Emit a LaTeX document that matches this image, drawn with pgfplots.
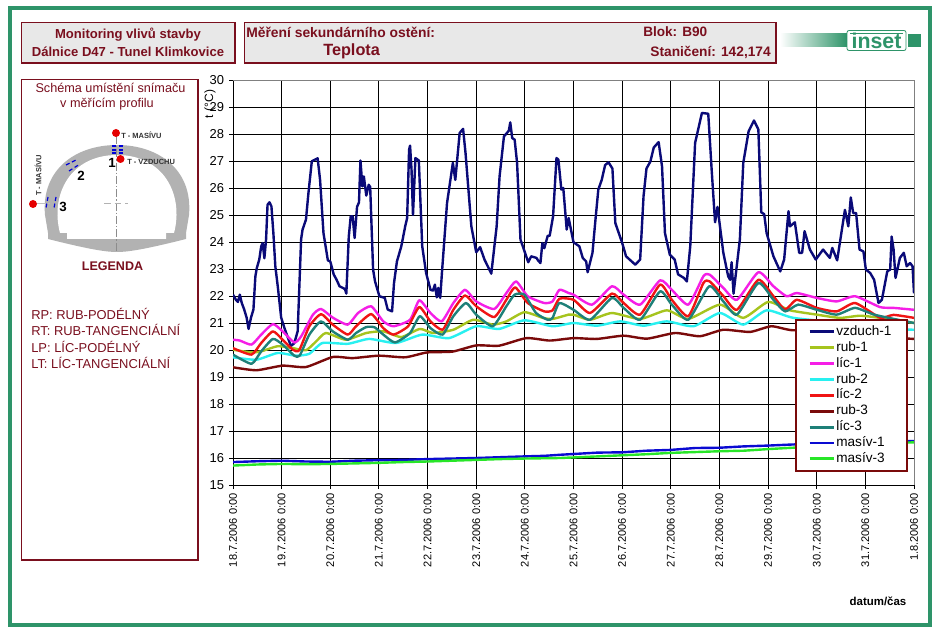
\documentclass[border=0pt]{standalone}
\usepackage{fontspec}
\setmainfont{Liberation Sans}
\usepackage{pgfplots}
\pgfplotsset{compat=1.18}
\definecolor{frameg}{HTML}{2E9469}
\definecolor{dred}{HTML}{7A0F1E}
\definecolor{boxg}{HTML}{E8E8E8}
\definecolor{cvz}{HTML}{0A0A78}
\definecolor{crub1}{HTML}{A6C41E}
\definecolor{clic1}{HTML}{F51EE6}
\definecolor{crub2}{HTML}{28F0F0}
\definecolor{clic2}{HTML}{F01414}
\definecolor{crub3}{HTML}{7A0A0A}
\definecolor{clic3}{HTML}{1E8078}
\definecolor{cmas1}{HTML}{0A0AD2}
\definecolor{cmas3}{HTML}{28E628}
\newcommand{\fs}[1]{\fontsize{#1}{#1}\selectfont}
\begin{document}
\begin{tikzpicture}
\begin{scope}[x=0.75pt,y=-0.75pt]
\path[use as bounding box,fill=white] (0,0) rectangle (941,641);
\draw[frameg,line width=3pt] (10,8) rectangle (930,625);
% header boxes
\draw[dred,fill=boxg,line width=0.8pt] (21.5,22.5) rectangle (235,63);
\draw[dred,fill=boxg,line width=0.8pt] (244.5,22.5) rectangle (776,63);
\draw[dred,fill=white,line width=0.8pt] (21.5,79.5) rectangle (198,560);
\node[dred,font=\bfseries\fs{9.8}] at (128,35) {Monitoring vlivů stavby};
\node[dred,font=\bfseries\fs{9.8}] at (128,51.5) {Dálnice D47 - Tunel Klimkovice};
\node[dred,font=\bfseries\fs{10.4},anchor=west,inner sep=0pt] at (246,32) {Měření sekundárního ostění:};
\node[dred,font=\bfseries\fs{12.2},anchor=west,inner sep=0pt] at (323,51) {Teplota};
\node[dred,font=\bfseries\fs{10.2},anchor=west,inner sep=0pt] at (643,32) {Blok: B90};
\node[dred,font=\bfseries\fs{10.3},anchor=east,inner sep=0pt] at (771,52) {Staničení: 142,174};
% logo
\shade[left color=white,right color=frameg] (780,34) rectangle (847,47);
\fill[frameg] (908,34) rectangle (921,47);
\draw[frameg,fill=white,rounded corners=1.5pt,line width=0.6pt] (847,30.5) rectangle (906,50.5);
\fill[frameg] (850,33) rectangle (903,34.2);
\node[frameg,font=\bfseries\fs{16},inner sep=0pt] at (876.5,41) {inset};
% scheme text
\node[dred,font=\fs{9.5}] at (110.5,88) {Schéma umístění snímaču};
\node[dred,font=\fs{9.5}] at (107,104) {v měřícím profilu};
\node[dred,font=\bfseries\fs{9.4}] at (112.5,266) {LEGENDA};
\node[dred,font=\fs{9.7},anchor=west,inner sep=0pt] at (31,314) {RP: RUB-PODÉLNÝ};
\node[dred,font=\fs{9.7},anchor=west,inner sep=0pt] at (31,330) {RT: RUB-TANGENCIÁLNÍ};
\node[dred,font=\fs{9.7},anchor=west,inner sep=0pt] at (31,347) {LP: LÍC-PODÉLNÝ};
\node[dred,font=\fs{9.7},anchor=west,inner sep=0pt] at (31,363) {LT: LÍC-TANGENCIÁLNÍ};
% tunnel
\fill[black!30] (48,239) -- (48,233) -- (45,215)
  .. controls (41,170) and (75,145) .. (117,145)
  .. controls (159,145) and (193,170) .. (189,215)
  -- (186,233) -- (186,239)
  .. controls (150,248) and (130,252) .. (117,252)
  .. controls (104,252) and (84,248) .. (48,239) -- cycle;
\fill[white] (60,233) .. controls (50,195) and (70,155) .. (117,155)
  .. controls (164,155) and (184,195) .. (174,233) -- (166,233) -- (166,239) -- (67,239) -- (67,233) -- cycle;
\draw[black!45,line width=0.3pt,dash pattern=on 6pt off 1.5pt on 1pt off 1.5pt] (116.5,136) -- (116.5,252);
\draw[black!30,line width=0.4pt,dash pattern=on 5pt off 3pt] (104,203.5) -- (128,203.5);
\draw[black!25,line width=0.5pt] (36,203.5) -- (50,203.5);
\draw[blue!85!black,line width=0.9pt,densely dashed] (112,146) -- (124,146) (112,150) -- (124,150) (112,153) -- (124,153);
\draw[blue!85!black,line width=0.9pt,densely dashed] (66,165) -- (76,160) (69,171) -- (80,164);
\draw[blue!85!black,line width=0.9pt,densely dashed] (48,197) -- (46,208) (56,197) -- (54,208);
\fill[red!90!black] (116,133) circle (3pt);
\fill[red!90!black] (120.5,159) circle (3pt);
\fill[red!90!black] (33,204) circle (3pt);
\node[black!80,font=\bfseries\fs{5.6},anchor=west,inner sep=0pt] at (121,135) {T - MASÍVU};
\node[black!80,font=\bfseries\fs{5.6},anchor=west,inner sep=0pt] at (127,162) {T - VZDUCHU};
\node[black!80,font=\bfseries\fs{5.6},rotate=90,anchor=west,inner sep=0pt] at (38,196) {T - MASÍVU};
\node[font=\bfseries\fs{10}] at (112,163) {1};
\node[font=\bfseries\fs{10}] at (81,176) {2};
\node[font=\bfseries\fs{10}] at (63,207) {3};
\end{scope}
\begin{axis}[
  at={(174.75pt,-363.75pt)},anchor=south west,
  scale only axis,width=510.75pt,height=303.75pt,
  xmin=0,xmax=14,ymin=15,ymax=30,
  xtick={0,...,14},ytick={15,...,30},
  xticklabels={18.7.2006 0:00,19.7.2006 0:00,20.7.2006 0:00,21.7.2006 0:00,22.7.2006 0:00,23.7.2006 0:00,24.7.2006 0:00,25.7.2006 0:00,26.7.2006 0:00,27.7.2006 0:00,28.7.2006 0:00,29.7.2006 0:00,30.7.2006 0:00,31.7.2006 0:00,1.8.2006 0:00},
  xticklabel style={rotate=90,anchor=east,font=\fs{8.3},inner sep=3pt},
  yticklabel style={font=\fs{9.7},inner sep=3.5pt},
  /pgf/number format/assume math mode=true,
  axis x line=bottom,axis y line=left,axis line style={-,black,line width=0.7pt},
  grid=major,major grid style={black,line width=0.7pt},
  tick style={black,line width=0.7pt},major tick length=3pt,tick align=outside,
  clip=true,
  every axis plot/.append style={line width=1.8pt,no marks,line join=round},
  legend cell align=left,
  legend style={at={(0.8253,0.41)},anchor=north west,draw=crub3,line width=1.5pt,fill=white,
    font=\fs{10.2},inner xsep=9pt,inner ysep=3pt,row sep=-0.1pt,
    nodes={inner sep=1pt,text width=43pt,text height=7.6pt,text depth=2.4pt,line width=0pt}},
  legend image code/.code={\draw[#1,line width=2.2pt] (0pt,0pt) -- (18pt,0pt);},
]
\addplot[cvz] coordinates {(0,22.05)(.06,21.86)(.10,21.78)(.14,22.05)(.18,21.74)(.23,21.5)(.28,21.2)(.32,20.78)(.37,21.2)(.42,21.5)(.46,22.73)(.49,23.04)(.54,23.35)(.58,23.84)(.61,23.96)(.645,23.4)(.68,24.1)(.71,25.38)(.75,25.47)(.79,25.32)(.83,24.33)(.87,23.1)(.92,22.36)(.99,21.2)(1.06,20.8)(1.19,20.15)(1.26,20.25)(1.33,20.7)(1.4,24.1)(1.43,24.46)(1.5,24.83)(1.55,25.8)(1.62,26.99)(1.74,27.1)(1.79,26.3)(1.86,24.33)(1.95,23.32)(2.0,23.28)(2.07,22.8)(2.13,22.6)(2.19,22.36)(2.3,22.26)(2.33,22.09)(2.38,24.2)(2.42,24.95)(2.46,24.95)(2.5,24.15)(2.55,25.3)(2.59,25.47)(2.62,27.02)(2.66,26.06)(2.69,26.43)(2.74,25.72)(2.79,26.12)(2.82,26.04)(2.88,22.98)(2.92,22.54)(3.01,21.99)(3.12,21.93)(3.18,21.5)(3.27,21.43)(3.31,22.48)(3.37,23.28)(3.46,23.84)(3.54,24.58)(3.58,24.89)(3.62,27.42)(3.64,27.57)(3.67,26.68)(3.7,25.0)(3.75,27.11)(3.82,27.02)(3.89,23.84)(3.97,22.85)(4.06,22.23)(4.11,22.2)(4.15,22.42)(4.19,21.95)(4.22,22.3)(4.26,21.93)(4.3,22.98)(4.4,25.44)(4.45,26.06)(4.52,26.93)(4.57,26.3)(4.66,28.04)(4.73,28.19)(4.78,27.3)(4.9,24.58)(5.0,23.62)(5.08,23.81)(5.17,23.35)(5.31,22.83)(5.42,24.58)(5.48,26.43)(5.57,27.91)(5.67,28.12)(5.7,28.43)(5.74,27.85)(5.79,27.79)(5.84,26.93)(5.91,24.09)(6.07,23.25)(6.13,23.47)(6.24,23.41)(6.27,23.32)(6.32,23.22)(6.36,23.96)(6.4,23.77)(6.47,24.23)(6.51,24.23)(6.58,24.95)(6.65,27.11)(6.69,27.05)(6.75,25.94)(6.79,26)(6.86,24.46)(6.9,24.89)(7.0,23.99)(7.12,23.84)(7.19,23.41)(7.26,23.28)(7.29,22.88)(7.39,23.6)(7.45,24.8)(7.51,25.94)(7.58,26.3)(7.65,26.85)(7.72,26.95)(7.8,26.72)(7.86,24.7)(8.0,23.97)(8.08,23.47)(8.27,23.16)(8.37,23.35)(8.44,25.7)(8.5,26.72)(8.58,26.98)(8.65,27.5)(8.75,27.7)(8.82,26.8)(8.88,24.33)(8.98,23.53)(9.08,23.35)(9.15,22.8)(9.27,22.67)(9.33,22.54)(9.4,23.84)(9.5,27.67)(9.64,28.78)(9.77,28.75)(9.84,26.68)(9.91,24.73)(9.96,25.3)(10.08,23.6)(10.18,22.73)(10.22,22.6)(10.25,23.25)(10.29,22.09)(10.42,24.09)(10.49,26.93)(10.6,28.1)(10.71,28.5)(10.8,28.17)(10.86,25.1)(10.92,25.03)(10.97,24.33)(11.11,23.47)(11.25,22.91)(11.33,23.35)(11.42,25.14)(11.45,24.58)(11.55,24.73)(11.64,23.6)(11.7,23.6)(11.75,24.4)(11.86,23.72)(11.98,23.35)(12.13,23.72)(12.27,23.41)(12.32,23.78)(12.42,23.32)(12.58,25.19)(12.65,24.58)(12.7,25.65)(12.75,25.07)(12.81,25.07)(12.88,23.72)(12.96,23.65)(13.01,22.98)(13.1,22.85)(13.18,22.6)(13.27,21.74)(13.34,21.86)(13.45,22.91)(13.51,22.98)(13.54,24.2)(13.58,23.72)(13.62,22.67)(13.71,23.41)(13.79,23.6)(13.85,23.1)(13.92,23.22)(13.97,23.1)(14,22.1)};
\addlegendentry{vzduch-1}
\addplot[crub1,smooth,tension=0.35] coordinates {(0,20.01)(.38,19.91)(.58,19.95)(.92,20.14)(1.23,20.07)(1.5,19.99)(1.71,20.32)(1.91,20.63)(2.32,20.38)(2.74,20.63)(3.09,20.69)(3.46,20.48)(3.84,20.78)(4.11,20.63)(4.53,20.75)(4.94,21.12)(5.34,20.94)(5.62,21.06)(5.99,21.4)(6.37,21.19)(6.57,21.15)(6.9,21.31)(7,21.31)(7.34,21.12)(7.79,21.37)(8.37,21.15)(8.92,21.47)(9.36,21.15)(10.01,21.68)(10.49,21.19)(11,21.78)(11.45,21.47)(12,21.31)(12.48,21.19)(12.89,21.27)(13.3,21.19)(14,21.0)};
\addlegendentry{rub-1}
\addplot[clic1,smooth,tension=0.35] coordinates {(0,20.38)(.14,20.35)(.38,20.2)(.58,20.57)(.82,20.96)(1.02,20.69)(1.26,20.28)(1.4,20.5)(1.64,21.3)(1.81,21.52)(2.05,21.2)(2.36,20.94)(2.57,21.37)(2.84,21.62)(3.09,21.06)(3.3,20.88)(3.64,21.12)(3.83,21.84)(4.06,21.37)(4.29,21.06)(4.53,21.74)(4.77,22.23)(5.0,21.8)(5.37,21.52)(5.62,22.11)(5.82,22.54)(6.06,21.99)(6.4,21.74)(6.57,21.8)(6.71,22.23)(6.9,22.11)(7,22.05)(7.38,21.68)(7.79,22.36)(8.03,22.05)(8.37,21.68)(8.78,22.58)(9.02,22.23)(9.36,21.68)(9.67,22.73)(9.8,22.79)(10.08,22.3)(10.36,21.86)(10.8,22.88)(11.11,22.36)(11.38,21.99)(11.59,22.11)(12.0,21.93)(12.41,21.8)(12.79,21.99)(13.3,21.59)(13.58,21.56)(14,21.49)};
\addlegendentry{líc-1}
\addplot[crub2,smooth,tension=0.35] coordinates {(0,19.73)(.48,19.64)(.92,19.89)(1.29,19.79)(1.57,19.86)(1.84,20.26)(2.36,20.23)(2.8,20.41)(3.35,20.26)(3.89,20.57)(4.44,20.44)(5,20.88)(5.47,20.78)(5.99,21.1)(6.57,20.88)(7,21.0)(7.48,20.9)(7.96,21.06)(8.44,20.9)(8.92,21.06)(9.47,20.88)(10.01,21.37)(10.49,20.94)(10.97,21.47)(11.52,21.19)(12.5,21.0)(13.3,20.8)(14,20.75)};
\addlegendentry{rub-2}
\addplot[clic2,smooth,tension=0.35] coordinates {(0,20.07)(.38,19.83)(.58,20.26)(.82,20.69)(1.02,20.38)(1.23,20.01)(1.36,19.99)(1.57,20.88)(1.81,21.33)(2.05,20.94)(2.36,20.57)(2.53,20.88)(2.84,21.33)(3.09,20.81)(3.3,20.57)(3.6,20.88)(3.83,21.59)(4.06,21.06)(4.31,20.75)(4.53,21.49)(4.77,22.02)(5,21.62)(5.37,21.22)(5.62,21.86)(5.8,22.32)(6.06,21.74)(6.4,21.43)(6.57,21.47)(6.71,21.9)(7,21.86)(7.34,21.37)(7.79,22.09)(8.03,21.74)(8.37,21.31)(8.78,22.42)(9.02,21.86)(9.36,21.25)(9.67,22.48)(9.8,22.54)(10.08,22)(10.36,21.49)(10.8,22.6)(11.11,21.99)(11.35,21.5)(11.59,21.86)(12,21.56)(12.41,21.43)(12.79,21.74)(13.3,21.2)(13.58,21.3)(14,21.19)};
\addlegendentry{líc-2}
\addplot[crub3,smooth,tension=0.35] coordinates {(0,19.36)(.48,19.25)(1.02,19.42)(1.5,19.37)(2.05,19.74)(2.46,19.7)(3,19.79)(3.54,19.73)(3.99,19.91)(4.51,19.94)(5,20.17)(5.47,20.16)(6.03,20.44)(6.51,20.35)(7,20.44)(7.48,20.41)(8.03,20.53)(8.51,20.42)(9.09,20.63)(9.6,20.51)(10.08,20.75)(10.63,20.67)(11.07,20.88)(11.52,20.73)(12.5,20.8)(13.3,20.5)(14,20.41)};
\addlegendentry{rub-3}
\addplot[clic3,smooth,tension=0.35] coordinates {(0,19.83)(.38,19.49)(.58,19.95)(.82,20.41)(1.02,20.2)(1.26,19.79)(1.37,19.79)(1.57,20.57)(1.81,21.06)(2.05,20.69)(2.36,20.38)(2.53,20.63)(2.74,20.85)(2.91,20.84)(3.09,20.57)(3.33,20.28)(3.64,20.63)(3.84,21.25)(4.06,20.81)(4.31,20.57)(4.53,21.25)(4.79,21.74)(5,21.31)(5.34,20.88)(5.62,21.62)(5.79,22.05)(5.99,22.05)(6.23,21.37)(6.47,21.12)(6.57,21.19)(6.71,21.74)(7,21.49)(7.34,21.12)(7.79,21.93)(8.03,21.56)(8.37,21.12)(8.78,22.17)(9.02,21.68)(9.36,21.12)(9.79,22.36)(10.08,21.8)(10.36,21.31)(10.8,22.48)(11.11,21.86)(11.35,21.43)(11.62,21.68)(12,21.49)(12.41,21.31)(12.79,21.56)(13.2,21.3)(14,21.0)};
\addlegendentry{líc-3}
\addplot[cmas1] coordinates {(0,15.85)(.5,15.88)(1,15.9)(1.5,15.87)(2,15.86)(2.5,15.9)(3,15.92)(3.5,15.93)(4,15.96)(4.5,15.98)(5,16)(5.5,16.03)(6,16.06)(6.4,16.08)(6.73,16.12)(7.5,16.2)(8,16.21)(8.5,16.27)(9,16.3)(9.5,16.37)(10,16.38)(10.5,16.43)(11,16.46)(11.5,16.5)(12.5,16.55)(13.5,16.6)(14,16.63)};
\addlegendentry{masív-1}
\addplot[cmas3] coordinates {(0,15.72)(.5,15.76)(1,15.78)(1.5,15.77)(2,15.78)(2.5,15.8)(3,15.82)(3.5,15.85)(4,15.87)(4.5,15.9)(5,15.93)(5.5,15.96)(6,15.98)(6.73,16.0)(7.5,16.06)(8,16.1)(8.5,16.14)(9,16.19)(9.5,16.22)(10,16.25)(10.5,16.27)(11,16.33)(11.5,16.38)(12.5,16.45)(13.5,16.55)(14,16.58)};
\addlegendentry{masív-3}
\end{axis}
\begin{scope}[x=0.75pt,y=-0.75pt]
\draw[black!50,line width=0.7pt] (233,80) -- (914,80) -- (914,485);
\node[black,font=\fs{9},rotate=90,inner sep=0pt] at (210,104) {t (°C)};
\node[black,font=\bfseries\fs{8.6},inner sep=0pt] at (878,601) {datum/čas};
\end{scope}
\end{tikzpicture}
\end{document}
